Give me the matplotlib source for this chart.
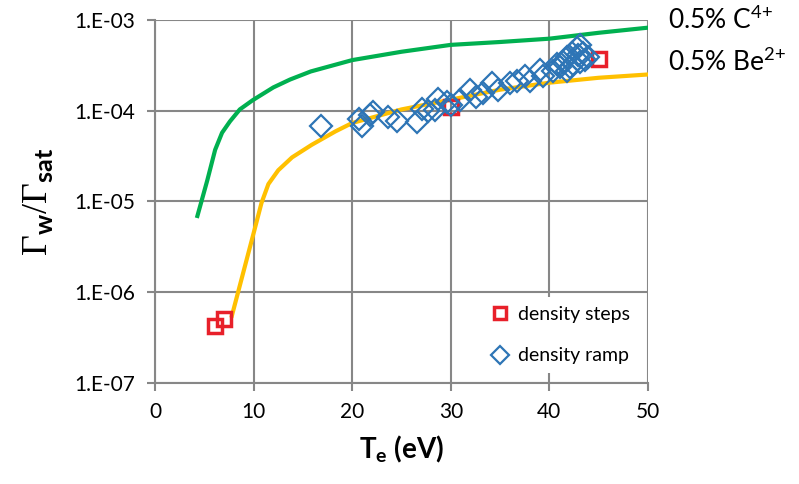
import matplotlib
matplotlib.use("Agg")
import matplotlib.pyplot as plt

plt.rcParams['font.family'] = ['Lato', 'DejaVu Sans']
plt.rcParams['mathtext.fontset'] = 'custom'
plt.rcParams['mathtext.rm'] = 'Liberation Serif'
plt.rcParams['mathtext.bf'] = 'Lato:bold'
plt.rcParams['mathtext.sf'] = 'Lato'

# model curves
c4_te = [4.3, 5.3, 6.1, 6.8, 7.6, 8.6, 9.9, 12.0, 13.7, 15.8, 20, 25, 30, 35, 40, 45, 50]
c4_flux = [6.9e-6, 1.7e-5, 3.7e-5, 5.7e-5, 7.6e-5, 1.03e-4, 1.3e-4, 1.8e-4, 2.2e-4,
           2.7e-4, 3.6e-4, 4.45e-4, 5.3e-4, 5.7e-4, 6.2e-4, 7.2e-4, 8.2e-4]
be2_te = [7.8, 10.1, 10.8, 11.5, 12.5, 13.9, 15.9, 18.3, 20, 25, 30, 35, 40, 45, 50]
be2_flux = [5.5e-7, 4.9e-6, 9.6e-6, 1.55e-5, 2.2e-5, 3.05e-5, 4.2e-5, 5.9e-5, 7.3e-5,
            1.03e-4, 1.32e-4, 1.7e-4, 2.03e-4, 2.3e-4, 2.5e-4]

# density steps
steps_te = [6.1, 7.0, 30.0, 45.0]
steps_flux = [4.2e-7, 5.0e-7, 1.1e-4, 3.7e-4]

# density ramp
ramp_te = [16.8, 20.7, 21.0, 21.8, 22.1, 23.6, 24.5, 26.6, 27.1, 27.7, 28.4, 28.7,
           29.6, 30.0, 30.9, 31.9, 32.6, 33.3, 34.2, 34.8, 36.0, 36.7, 37.5, 38.0,
           39.0, 39.4, 40.4, 40.8, 41.1, 41.4, 41.8, 42.3, 42.8, 43.1, 43.4, 43.9,
           42.4, 42.1, 43.1, 43.6, 42.9, 41.8]
ramp_flux = [6.8e-5, 8.0e-5, 6.7e-5, 9.0e-5, 9.6e-5, 8.6e-5, 7.6e-5, 7.4e-5, 1.04e-4,
             1.0e-4, 1.02e-4, 1.33e-4, 1.23e-4, 1.14e-4, 1.3e-4, 1.7e-4, 1.4e-4,
             1.58e-4, 2.0e-4, 1.7e-4, 2.0e-4, 2.1e-4, 2.4e-4, 2.1e-4, 2.8e-4, 2.4e-4,
             2.7e-4, 3.3e-4, 3.05e-4, 3.4e-4, 3.9e-4, 4.3e-4, 4.9e-4, 5.3e-4, 4.3e-4,
             3.9e-4, 3.3e-4, 3.0e-4, 3.4e-4, 3.6e-4, 4.1e-4, 2.7e-4]

fig = plt.figure(figsize=(7.99, 4.84), dpi=100)
ax = fig.add_axes([0.194, 0.209, 0.617, 0.750])

ax.plot(c4_te, c4_flux, color='#00B050', lw=3, zorder=3, solid_joinstyle='round')
ax.plot(be2_te, be2_flux, color='#FFC000', lw=3, zorder=3, solid_joinstyle='round')
ax.plot(steps_te, steps_flux, ls='none', marker='s', ms=10, mfc='none',
        mec='#E8202A', mew=2.5, label='density steps', zorder=4)
ax.plot(ramp_te, ramp_flux, ls='none', marker='D', ms=11, mfc='none',
        mec='#2E75B6', mew=1.6, label='density ramp', zorder=5)

ax.set_yscale('log')
ax.set_xlim(0, 50)
ax.set_ylim(1e-7, 1e-3)
ax.set_xticks([0, 10, 20, 30, 40, 50])
ax.set_yticks([1e-7, 1e-6, 1e-5, 1e-4, 1e-3])
ax.set_yticklabels(['1.E-07', '1.E-06', '1.E-05', '1.E-04', '1.E-03'])
ax.minorticks_off()
ax.grid(True, color='#878787', lw=1.5)
ax.set_axisbelow(True)
for s in ['top', 'right']:
    ax.spines[s].set_visible(False)
for s in ['left', 'bottom']:
    ax.spines[s].set_color('#878787')
    ax.spines[s].set_linewidth(1.5)
ax.tick_params(colors='#878787', width=1.5, length=6, labelsize=15,
               labelcolor='black', pad=8)

ax.set_xlabel(r'T$_\mathbf{e}$ (eV)', fontsize=20, fontweight='bold', labelpad=8)
ax.set_ylabel(r'$\Gamma_{\mathbf{w}}/\Gamma_{\mathbf{sat}}$', fontsize=26, labelpad=14)

ax.text(1.04, 1.0, r'0.5% C$^{\mathsf{4{+}}}$', transform=ax.transAxes, fontsize=19,
        va='center', ha='left')
ax.text(1.04, 0.885, r'0.5% Be$^{\mathsf{2{+}}}$', transform=ax.transAxes, fontsize=19,
        va='center', ha='left')

leg = ax.legend(loc='lower right', bbox_to_anchor=(1.0, 0.0), fontsize=14,
                frameon=True, fancybox=False, edgecolor='none', framealpha=1,
                handletextpad=0.3, labelspacing=1.25, borderpad=0.45,
                handlelength=1.2, markerscale=0.8)
leg.get_frame().set_facecolor('white')

fig.savefig('out.png', dpi=100)
